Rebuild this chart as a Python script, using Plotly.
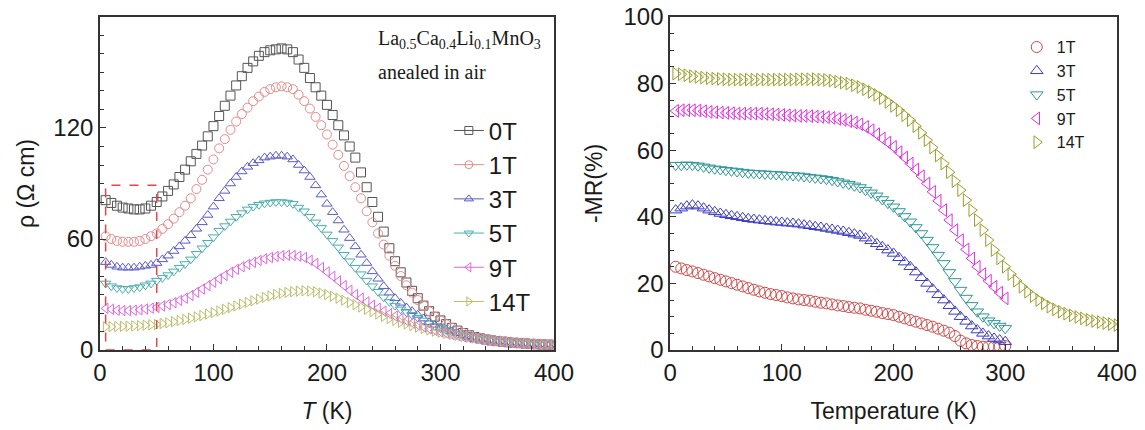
import plotly.graph_objects as go

# ---------------- data ----------------
T_left = list(range(5, 401, 5))

rho_0T = [81, 79.5, 78, 77, 76.5, 76, 76, 76.5, 78, 80, 83, 86, 89.5, 93.5, 97.5, 102, 106, 110.5, 115.5, 121,
          126.5, 132, 137.5, 143, 148, 152.5, 156, 159, 161, 162, 162.5, 163, 162.5, 161, 157, 152.5, 147, 142, 137.5, 132.5,
          127, 121.5, 116, 110, 104, 96, 88, 80, 72, 64, 55, 48, 42, 36.5, 32, 28, 24, 21, 18, 16,
          14, 12, 10.5, 9.2, 8, 7, 6.3, 5.7, 5.2, 4.8, 4.5, 4.2, 3.9, 3.7, 3.5, 3.3, 3.1, 3, 2.9, 2.8]
rho_1T = [61.5, 60, 59, 58.5, 58.5, 58.5, 59, 60, 61.5, 63, 65.5, 68, 71, 74.5, 78, 82, 87, 92, 97.5, 103,
          109, 114, 119, 123.5, 127.5, 131, 134.5, 137, 139.5, 141, 142, 142.5, 142, 141, 138, 134.5, 130.5, 126, 121.5, 116.5,
          111, 105.5, 99.5, 94, 88, 82, 75, 69, 63, 57, 51, 45.5, 40, 35, 31, 27, 24, 21, 18, 16,
          14, 12, 10.5, 9.2, 8, 7, 6.3, 5.7, 5.2, 4.8, 4.5, 4.2, 3.9, 3.7, 3.5, 3.3, 3.1, 3, 2.9, 2.8]
rho_3T = [47.5, 46, 45, 44.5, 44.5, 44.5, 45, 45.5, 46, 47, 49, 51, 53.5, 56, 59, 62, 65.5, 69, 73, 77.5,
          82, 86, 90, 93.5, 96.5, 99, 101, 102.5, 104, 104.5, 105, 105, 104.5, 103, 100, 97, 93.5, 89, 84, 79,
          74.5, 70, 65, 60.5, 56, 51.5, 47, 42.5, 38.5, 34.5, 31, 28, 25.5, 23, 21, 19, 17, 15, 13.5, 12,
          11, 10, 9, 8.2, 7.4, 6.7, 6.1, 5.6, 5.2, 4.8, 4.5, 4.2, 3.9, 3.7, 3.5, 3.3, 3.1, 3, 2.9, 2.8]
rho_5T = [36, 34.5, 33.5, 33, 33, 33.5, 34, 35, 36, 37.5, 39, 40.5, 42.5, 44.5, 46.5, 49, 52, 55, 58, 61,
          64.5, 67, 69.5, 72, 74, 76, 77.5, 78.5, 79.3, 79.7, 80, 80, 79.7, 79, 77, 75, 72, 69, 66, 62.5,
          59, 55.5, 51.5, 48, 44.5, 41, 37.5, 34.5, 31.5, 28.5, 26, 24, 22, 20.5, 19, 17.5, 16, 14.5, 13, 11.8,
          10.8, 9.8, 9, 8.2, 7.5, 6.8, 6.2, 5.7, 5.2, 4.8, 4.5, 4.2, 3.9, 3.7, 3.5, 3.3, 3.1, 3, 2.9, 2.8]
rho_9T = [22.5, 22, 21.5, 21.3, 21.3, 21.5, 21.8, 22.2, 22.6, 23, 23.8, 24.6, 25.6, 26.8, 28, 29.5, 31.2, 33, 34.8, 36.6,
          38.5, 40.3, 42, 43.6, 45, 46.3, 47.4, 48.4, 49.3, 50, 50.6, 51, 51.2, 51.1, 50.7, 50, 48.5, 46.8, 44.6, 42.2,
          39.8, 37.3, 34.8, 32.3, 30, 28, 26, 24.2, 22.6, 21, 19.6, 18.3, 17, 15.8, 14.6, 13.5, 12.5, 11.5, 10.6, 9.8,
          9.1, 8.4, 7.8, 7.2, 6.7, 6.2, 5.8, 5.4, 5.1, 4.8, 4.5, 4.2, 3.9, 3.7, 3.5, 3.3, 3.1, 3, 2.9, 2.8]
rho_14T = [12.5, 12.6, 12.7, 12.8, 12.9, 13, 13.2, 13.4, 13.6, 13.8, 14.3, 14.7, 15.3, 15.9, 16.5, 17.2, 17.9, 18.6, 19.4, 20.2,
           21.1, 22, 22.9, 23.8, 24.8, 25.7, 26.6, 27.5, 28.4, 29.2, 30, 30.6, 31.1, 31.5, 31.8, 32, 31.9, 31.5, 30.8, 30,
           29.1, 28, 26.9, 25.7, 24.5, 23.3, 22, 20.7, 19.5, 18.2, 17, 16, 15, 14.1, 13.2, 12.4, 11.6, 10.9, 10.2, 9.6,
           9, 8.4, 7.9, 7.4, 6.9, 6.5, 6.1, 5.7, 5.3, 5, 4.7, 4.4, 4.1, 3.9, 3.7, 3.5, 3.3, 3.1, 3, 2.9]

T_mr = list(range(5, 301, 5))
T_mr14 = list(range(5, 401, 5))

mr_1T = [25, 24.5, 24, 23.6, 23.1, 22.6, 22.1, 21.6, 21.1, 20.6, 20.1, 19.6, 19.1, 18.6, 18.1, 17.6, 17.2, 16.8, 16.5, 16.2,
         15.8, 15.5, 15.2, 15, 14.8, 14.5, 14.2, 14, 13.7, 13.4, 13.2, 12.9, 12.7, 12.5, 12.1, 11.8, 11.5, 11.1, 10.8, 10.5,
         10, 9.5, 9, 8.5, 8, 7.5, 7, 6.4, 5.8, 5.2, 4.2, 2.8, 2, 1.5, 1.2, 1, 1, 1, 1, 1.2]
mr_3T = [42, 42.6, 43.2, 43.5, 43.2, 42.6, 42, 41.5, 41, 40.6, 40.3, 40, 39.7, 39.4, 39.2, 39, 38.8, 38.6, 38.4, 38.3,
         38.1, 38, 37.8, 37.5, 37.3, 37, 36.8, 36.5, 36.2, 35.9, 35.6, 35.2, 34.8, 34.4, 33.6, 32.8, 31.9, 31, 30, 29,
         27.7, 26.4, 25, 23.4, 21.7, 20, 18.3, 16.6, 15, 13.3, 11.6, 10, 8.6, 7.2, 6, 5, 4.2, 3.5, 3, 2.5]
mr_5T = [55.5, 55.5, 55.6, 55.5, 55.3, 55, 54.7, 54.4, 54.2, 54, 53.8, 53.6, 53.4, 53.2, 53.1, 53, 52.9, 52.8, 52.7, 52.6,
         52.5, 52.4, 52.3, 52.1, 51.9, 51.7, 51.5, 51.3, 51, 50.6, 50.2, 49.8, 49.3, 48.8, 48, 47.2, 46.3, 45.2, 44.1, 43,
         41.6, 40.1, 38.5, 36.8, 35, 33, 30.8, 28.5, 26, 23.3, 20.6, 18, 15.6, 13.4, 11.5, 10, 8.8, 8, 7.2, 6.5]
mr_9T = [71.8, 72, 72, 72, 71.9, 71.7, 71.5, 71.4, 71.3, 71.2, 71.1, 71, 71, 71, 71, 71, 70.9, 70.8, 70.7, 70.6,
         70.5, 70.4, 70.3, 70.3, 70.2, 70.1, 70, 69.9, 69.7, 69.4, 69.1, 68.7, 68.3, 67.8, 67, 66, 64.8, 63.5, 62.3, 61,
         59.4, 57.8, 56, 54.2, 52.2, 50, 47.5, 44.8, 42, 39, 36, 33, 30.2, 27.5, 25, 22.8, 20.8, 19, 17.2, 15.5]
mr_14T = [83, 82.8, 82.5, 82.2, 82, 81.8, 81.6, 81.5, 81.4, 81.3, 81.2, 81.2, 81.2, 81.2, 81.2, 81.2, 81.2, 81.2, 81.2, 81.2,
          81.2, 81.2, 81.3, 81.3, 81.3, 81.3, 81.2, 81.1, 80.9, 80.6, 80.3, 80, 79.5, 79, 78.3, 77.5, 76.6, 75.6, 74.5, 73.3,
          72, 70.5, 69, 67.2, 65.2, 63, 60.8, 58.4, 56, 53.4, 50.7, 48, 45, 42, 39, 36, 33, 30, 27.5, 25,
          22.8, 20.8, 19, 17.5, 16.2, 15, 14, 13, 12.2, 11.5, 10.9, 10.4, 9.9, 9.5, 9.1, 8.7, 8.4, 8.1, 7.8, 7.5]

labels_left = ["0T", "1T", "3T", "5T", "9T", "14T"]
labels_right = ["1T", "3T", "5T", "9T", "14T"]

# ---------------- styles ----------------
FONT = "Liberation Sans, Arial, sans-serif"
SERIF = "Liberation Serif, Times New Roman, serif"
TXT = "#1a1a1a"
sym_left = ["square-open", "circle-open", "triangle-up-open", "triangle-down-open", "triangle-left-open", "triangle-right-open"]
col_left = ["#555555", "#e48a8a", "#5a5ac8", "#4aaeae", "#e066e0", "#bcbc6a"]
sym_right = sym_left[1:]
col_right = ["#d04848", "#3c3cc0", "#2e9696", "#e02ee0", "#9c9c2a"]

fig = go.Figure()

left_series = [rho_0T, rho_1T, rho_3T, rho_5T, rho_9T, rho_14T]
for lab, ys, sym, col in zip(labels_left, left_series, sym_left, col_left):
    fig.add_trace(go.Scatter(x=T_left, y=ys, mode="markers", showlegend=False,
                             marker=dict(symbol=sym, size=9, color=col, line=dict(width=1, color=col)),
                             xaxis="x", yaxis="y"))
# legend entries (line + marker) for the left panel
for lab, sym, col in zip(labels_left, sym_left, col_left):
    fig.add_trace(go.Scatter(x=[None], y=[None], mode="lines+markers", name=lab, legend="legend",
                             line=dict(color=col, width=1),
                             marker=dict(symbol=sym, size=8, color=col, line=dict(width=1, color=col)),
                             xaxis="x", yaxis="y"))

right_series = [mr_1T, mr_3T, mr_5T, mr_9T, mr_14T]
right_x = [T_mr, T_mr, T_mr, T_mr, T_mr14]
for lab, xs, ys, sym, col in zip(labels_right, right_x, right_series, sym_right, col_right):
    fig.add_trace(go.Scatter(x=xs, y=ys, mode="markers", name=lab, legend="legend2",
                             marker=dict(symbol=sym, size=11, color=col, line=dict(width=1, color=col)),
                             xaxis="x2", yaxis="y2"))

axis_common = dict(showline=True, linecolor="#333333", linewidth=1.5, mirror=True,
                   ticks="inside", ticklen=6, tickwidth=1.2, tickcolor="#333333",
                   showgrid=False, zeroline=False, automargin=False,
                   tickfont=dict(family=FONT, size=24, color=TXT),
                   minor=dict(ticks="inside", ticklen=4, tickwidth=1, tickcolor="#333333"))

title_font = dict(family=FONT, size=23, color=TXT)

fig.update_layout(
    width=1145, height=430,
    margin=dict(l=0, r=0, t=0, b=0),
    paper_bgcolor="white", plot_bgcolor="white",
    xaxis=dict(domain=[0.0873, 0.4838], range=[0, 400], tickvals=[0, 100, 200, 300, 400],
               title=dict(text="<i>T</i> (K)", font=title_font, standoff=18),
               anchor="y", **axis_common),
    yaxis=dict(domain=[0.186, 0.9605], range=[0, 180], tickvals=[0, 60, 120],
               title=dict(text="ρ (Ω cm)", font=title_font, standoff=12),
               anchor="x", **axis_common),
    xaxis2=dict(domain=[0.5852, 0.9755], range=[0, 400], tickvals=[0, 100, 200, 300, 400],
                title=dict(text="Temperature (K)", font=title_font, standoff=18),
                anchor="y2", **axis_common),
    yaxis2=dict(domain=[0.186, 0.9605], range=[0, 100], tickvals=[0, 20, 40, 60, 80, 100],
                title=dict(text="-MR(%)", font=title_font, standoff=14),
                anchor="x2", **axis_common),
    legend=dict(x=0.392, y=0.748, xanchor="left", yanchor="top", bgcolor="rgba(0,0,0,0)",
                font=dict(family=FONT, size=24, color=TXT), tracegroupgap=0, itemwidth=30),
    legend2=dict(x=0.888, y=0.93, xanchor="left", yanchor="top", bgcolor="rgba(0,0,0,0)",
                 font=dict(family=FONT, size=16, color=TXT), tracegroupgap=0),
    shapes=[dict(type="rect", xref="x", yref="y", x0=5, x1=50, y0=0, y1=89,
                 line=dict(color="#e04848", width=1.5, dash="dash"))],
    annotations=[
        dict(text="La<sub>0.5</sub>Ca<sub>0.4</sub>Li<sub>0.1</sub>MnO<sub>3</sub>", xref="paper", yref="paper",
             x=376/1145, y=1 - 40/430, xanchor="left", yanchor="middle", showarrow=False,
             font=dict(family=SERIF, size=20, color=TXT)),
        dict(text="anealed in air", xref="paper", yref="paper",
             x=376/1145, y=1 - 72/430, xanchor="left", yanchor="middle", showarrow=False,
             font=dict(family=SERIF, size=20, color=TXT)),
    ],
)

fig.write_html("out.html")
